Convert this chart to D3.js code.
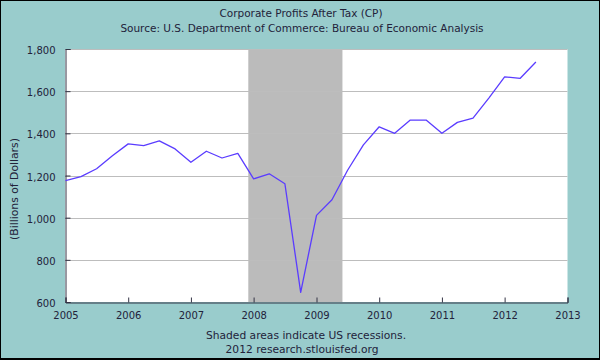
<!DOCTYPE html>
<html>
<head>
<meta charset="utf-8">
<script src="https://cdn.jsdelivr.net/npm/d3@7"></script>
<style>
  html, body { margin: 0; padding: 0; background: #99cccc; }
  svg { display: block; }
  text { font-family: "DejaVu Sans", Verdana, sans-serif; fill: #22223a; }
</style>
</head>
<body>
<svg id="chart" width="600" height="360"></svg>
<script>
// ---- data ----
const quarters = [
  "2005-01-01","2005-04-01","2005-07-01","2005-10-01",
  "2006-01-01","2006-04-01","2006-07-01","2006-10-01",
  "2007-01-01","2007-04-01","2007-07-01","2007-10-01",
  "2008-01-01","2008-04-01","2008-07-01","2008-10-01",
  "2009-01-01","2009-04-01","2009-07-01","2009-10-01",
  "2010-01-01","2010-04-01","2010-07-01","2010-10-01",
  "2011-01-01","2011-04-01","2011-07-01","2011-10-01",
  "2012-01-01","2012-04-01","2012-07-01"
];
const profits = [
  1176, 1195, 1232, 1294,
  1350, 1342, 1364, 1326,
  1263, 1315, 1283, 1305,
  1184, 1208, 1161, 646,
  1011, 1085, 1225, 1345,
  1431, 1400, 1463, 1463,
  1400, 1452, 1472, 1567,
  1668, 1661, 1738
];
const recessionStart = ["2007-12-01"];
const recessionEnd = ["2009-06-01"];
const yTicks = [600, 800, 1000, 1200, 1400, 1600, 1800];
const xTickYears = [2005, 2006, 2007, 2008, 2009, 2010, 2011, 2012, 2013];
const titleText = "Corporate Profits After Tax (CP)";
const subtitleText = "Source: U.S. Department of Commerce: Bureau of Economic Analysis";
const yLabelText = "(Billions of Dollars)";
const noteText = ["Shaded areas indicate US recessions.", "2012 research.stlouisfed.org"];

// ---- drawing ----
(function () {
const parse = d3.timeParse("%Y-%m-%d");
const svg = d3.select("#chart");
const W = 600, H = 360;
const pL = 65, pR = 567.5, pT = 49, pB = 302;

svg.append("rect").attr("x", 0).attr("y", 0).attr("width", W).attr("height", H).attr("fill", "#99cccc");

const x = d3.scaleTime()
  .domain([new Date(2005, 0, 1), new Date(2013, 0, 1)])
  .range([pL + 0.5, pR]);
const y = d3.scaleLinear().domain([600, 1800]).range([pB, pT]);

// plot background
svg.append("rect").attr("x", pL).attr("y", pT).attr("width", pR - pL).attr("height", pB - pT).attr("fill", "#ffffff");

// recessions
svg.selectAll("rect.rec").data(recessionStart.map((s, i) => [parse(s), parse(recessionEnd[i])]))
  .enter().append("rect").attr("class", "rec")
  .attr("x", d => x(d[0])).attr("width", d => x(d[1]) - x(d[0]))
  .attr("y", pT).attr("height", pB - pT)
  .attr("fill", "#bbbbbb");

// gridlines
svg.append("g").selectAll("line").data(yTicks.slice(1)).enter().append("line")
  .attr("x1", pL).attr("x2", pR)
  .attr("y1", d => Math.round(y(d)) + 0.5).attr("y2", d => Math.round(y(d)) + 0.5)
  .attr("stroke", "#bdbdbd").attr("stroke-width", 1.2);

// y axis
const yAxis = d3.axisLeft(y).tickValues(yTicks).tickSize(-5).tickPadding(10).tickFormat(d3.format(","));
const gy = svg.append("g").attr("transform", `translate(${pL + 0.5},0)`).call(yAxis);
gy.select(".domain").attr("stroke", "#333344");
gy.selectAll(".tick line").attr("stroke", "#333344");
gy.selectAll(".tick text").attr("font-size", 10).attr("fill", "#22223a").attr("font-family", "DejaVu Sans").attr("dy", "0.45em");

// x axis
const xAxis = d3.axisBottom(x).tickValues(xTickYears.map(yr => new Date(yr, 0, 1))).tickSize(-5).tickPadding(9).tickFormat(d3.timeFormat("%Y"));
const gx = svg.append("g").attr("transform", `translate(0,${pB + 0.5})`).call(xAxis);
gx.select(".domain").attr("stroke", "#333344");
gx.selectAll(".tick line").attr("stroke", "#333344");
gx.selectAll(".tick text").attr("font-size", 10).attr("fill", "#22223a").attr("font-family", "DejaVu Sans");

// line
const line = d3.line().x((d, i) => x(parse(quarters[i]))).y(d => y(d));
svg.append("path").datum(profits).attr("d", line)
  .attr("fill", "none").attr("stroke", "#5a3cff").attr("stroke-width", 1.3).attr("stroke-linejoin", "round");

// titles
svg.append("text").attr("x", 301).attr("y", 17).attr("text-anchor", "middle").attr("font-size", 10.5).text(titleText);
svg.append("text").attr("x", 302).attr("y", 32).attr("text-anchor", "middle").attr("font-size", 10.5).text(subtitleText);
svg.append("text").attr("transform", "translate(18,189) rotate(-90)").attr("text-anchor", "middle").attr("font-size", 10.8).text(yLabelText);
svg.append("text").attr("x", 306).attr("y", 339).attr("text-anchor", "middle").attr("font-size", 10.7).text(noteText[0]);
svg.append("text").attr("x", 302).attr("y", 353).attr("text-anchor", "middle").attr("font-size", 10.7).text(noteText[1]);

// outer border
svg.append("rect").attr("x", 0.5).attr("y", 0.5).attr("width", W - 1).attr("height", H - 2).attr("fill", "none").attr("stroke", "#000").attr("stroke-width", 1);
svg.append("rect").attr("x", 0).attr("y", H - 2).attr("width", W).attr("height", 2).attr("fill", "#000");
})();
</script>
</body>
</html>
